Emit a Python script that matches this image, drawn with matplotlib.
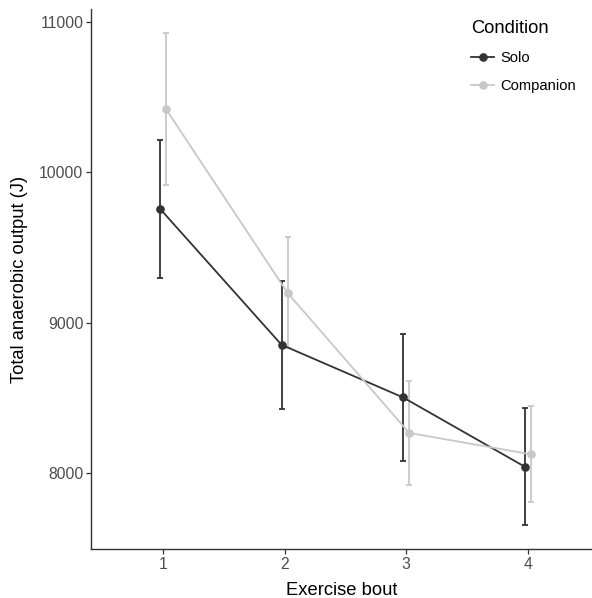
import numpy as np
import matplotlib
matplotlib.use("Agg")
import matplotlib.pyplot as plt
from matplotlib.lines import Line2D

plt.rcParams['font.family'] = ['Liberation Sans', 'DejaVu Sans']

bouts = [1, 2, 3, 4]
conditions = ['Solo', 'Companion']
solo_mean = [9757, 8852, 8502, 8042]
solo_low = [9298, 8422, 8078, 7654]
solo_high = [10213, 9279, 8922, 8432]
comp_mean = [10419, 9197, 8266, 8124]
comp_low = [9918, 8830, 7920, 7807]
comp_high = [10924, 9569, 8611, 8445]

colors = {'Solo': '#333333', 'Companion': '#c8c8c8'}
offsets = {'Solo': -0.025, 'Companion': 0.025}

fig = plt.figure(figsize=(5.92, 5.98), dpi=100)
ax = fig.add_axes([0.1532, 0.0819, 0.8468, 0.903])

series = {
    'Solo': (solo_mean, solo_low, solo_high),
    'Companion': (comp_mean, comp_low, comp_high),
}
for cond in conditions:
    mean, low, high = [np.array(v) for v in series[cond]]
    x = np.array(bouts) + offsets[cond]
    ax.errorbar(x, mean, yerr=[mean - low, high - mean], fmt='none',
                ecolor=colors[cond], elinewidth=1.3, capsize=2.2, capthick=1.3, zorder=2)
    ax.plot(x, mean, '-', color=colors[cond], lw=1.3, zorder=3)
    ax.plot(x, mean, 'o', color=colors[cond], ms=5.2, zorder=4)

ax.set_xlim(0.405, 4.529)
ax.set_ylim(7494, 11085)
ax.set_xticks(bouts)
ax.set_yticks([8000, 9000, 10000, 11000])

for s in ['top', 'right']:
    ax.spines[s].set_visible(False)
for s in ['left', 'bottom']:
    ax.spines[s].set_color('#333333')
    ax.spines[s].set_linewidth(1.0)
ax.tick_params(axis='both', length=3.5, width=0.9, color='#333333',
               labelcolor='#4d4d4d', labelsize=11.3)
ax.tick_params(axis='y', pad=1.7)
ax.tick_params(axis='x', pad=2.5)

ax.set_xlabel('Exercise bout', fontsize=13.2, labelpad=7)
ax.set_ylabel('Total anaerobic output (J)', fontsize=13.2, labelpad=8)

handles = [Line2D([], [], color=colors[c], lw=1.3, marker='o', ms=5.2) for c in conditions]
leg = ax.legend(handles, conditions, title='Condition', loc='upper left',
                bbox_to_anchor=(471 / 592, 1 - 20 / 598), bbox_transform=fig.transFigure,
                frameon=False, borderpad=0, borderaxespad=0, fontsize=10.6,
                title_fontsize=13.2, handlelength=1.57, handletextpad=0.4,
                labelspacing=0.95, alignment='left')

fig.savefig('out.png', dpi=100)
